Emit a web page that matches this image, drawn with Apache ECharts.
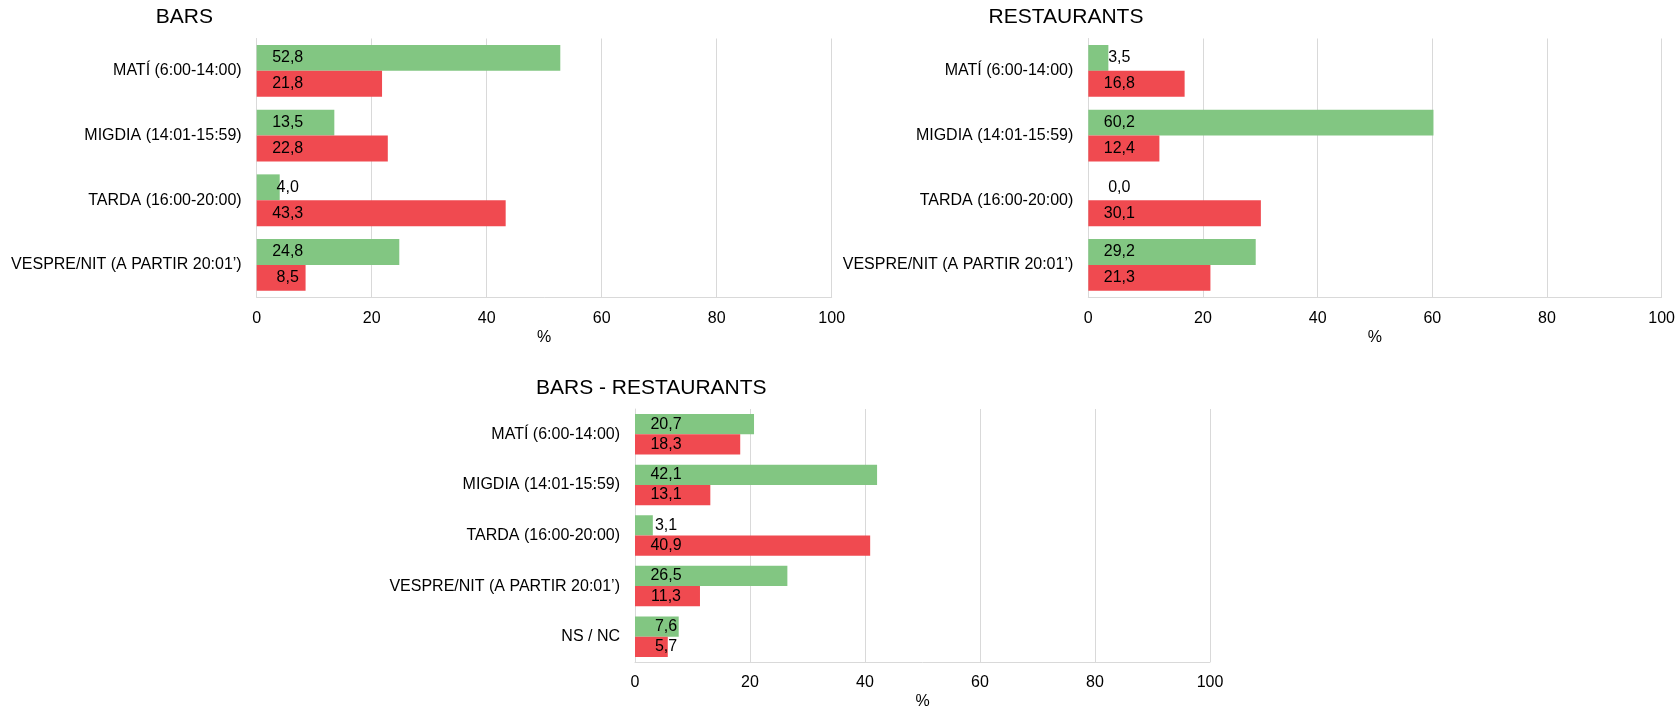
<!DOCTYPE html>
<html>
<head>
<meta charset="utf-8">
<script src="https://cdn.jsdelivr.net/npm/echarts@6/dist/echarts.min.js"></script>
<style>
html,body{margin:0;padding:0;background:#fff;}
#c{width:1678px;height:711px;}
</style>
</head>
<body>
<div id="c"></div>
<script>
const categories4 = ['MATÍ (6:00-14:00)', 'MIGDIA (14:01-15:59)', 'TARDA (16:00-20:00)', 'VESPRE/NIT (A PARTIR 20:01’)'];
const categories5 = ['MATÍ (6:00-14:00)', 'MIGDIA (14:01-15:59)', 'TARDA (16:00-20:00)', 'VESPRE/NIT (A PARTIR 20:01’)', 'NS / NC'];
const titles = ['BARS', 'RESTAURANTS', 'BARS - RESTAURANTS'];
const barsGreen = [52.8, 13.5, 4.0, 24.8];
const barsRed = [21.8, 22.8, 43.3, 8.5];
const restGreen = [3.5, 60.2, 0.0, 29.2];
const restRed = [16.8, 12.4, 30.1, 21.3];
const bothGreen = [20.7, 42.1, 3.1, 26.5, 7.6];
const bothRed = [18.3, 13.1, 40.9, 11.3, 5.7];
const xTicks = [0, 20, 40, 60, 80, 100];
const axisName = '%';

const GREEN = '#82C682';
const RED = '#F04A50';
const FONT = 'Liberation Sans, Arial, sans-serif';
const GRIDC = '#D9D9D9';

const grids = [
  {left: 256.7, top: 38.5, width: 575, height: 258.8},
  {left: 1088.3, top: 38.5, width: 575, height: 258.8},
  {left: 635, top: 409, width: 575, height: 259.4}
];
const titlePos = [
  {x: 184.3, y: 7},
  {x: 1066, y: 7},
  {x: 651.3, y: 377.5}
];
const cats = [categories4, categories4, categories5];
const greens = [barsGreen, restGreen, bothGreen];
const reds = [barsRed, restRed, bothRed];

function fmt(p){ return Number(p.value).toFixed(1).replace('.', ','); }

const option = {
  animation: false,
  backgroundColor: '#fff',
  textStyle: {fontFamily: FONT},
  title: titles.map((t, i) => ({
    text: t, left: titlePos[i].x, top: titlePos[i].y, textAlign: 'center', padding: 0,
    textStyle: {fontFamily: FONT, fontSize: 21, fontWeight: 'normal', color: '#000'}
  })),
  grid: grids.map(g => Object.assign({containLabel: false}, g)),
  xAxis: grids.map((g, i) => ({
    type: 'value', gridIndex: i, min: xTicks[0], max: xTicks[xTicks.length - 1], interval: 20,
    name: axisName, nameLocation: 'middle', nameGap: 32,
    nameTextStyle: {fontFamily: FONT, fontSize: 16, color: '#000'},
    axisLine: {show: true, lineStyle: {color: GRIDC, width: 1}},
    axisTick: {show: false},
    axisLabel: {fontFamily: FONT, fontSize: 16, color: '#000', margin: 13},
    splitLine: {show: true, lineStyle: {color: GRIDC, width: 1}}
  })),
  yAxis: grids.map((g, i) => ({
    type: 'category', gridIndex: i, data: cats[i], inverse: true,
    axisLine: {show: true, lineStyle: {color: GRIDC, width: 1}},
    axisTick: {show: false},
    axisLabel: {fontFamily: FONT, fontSize: 16, color: '#000', margin: 15},
    splitLine: {show: false}
  })),
  series: []
};

for (let i = 0; i < 3; i++) {
  [[greens[i], GREEN], [reds[i], RED]].forEach(([d, c]) => {
    option.series.push({
      type: 'bar', xAxisIndex: i, yAxisIndex: i, data: d,
      barGap: '0%', barCategoryGap: '20%',
      itemStyle: {color: c},
      label: {
        show: true, position: [31, '50%'], align: 'center', verticalAlign: 'middle',
        fontFamily: FONT, fontSize: 16, color: '#000', formatter: fmt
      }
    });
  });
}

const chart = echarts.init(document.getElementById('c'), null, {renderer: 'canvas'});
chart.setOption(option);
</script>
</body>
</html>
